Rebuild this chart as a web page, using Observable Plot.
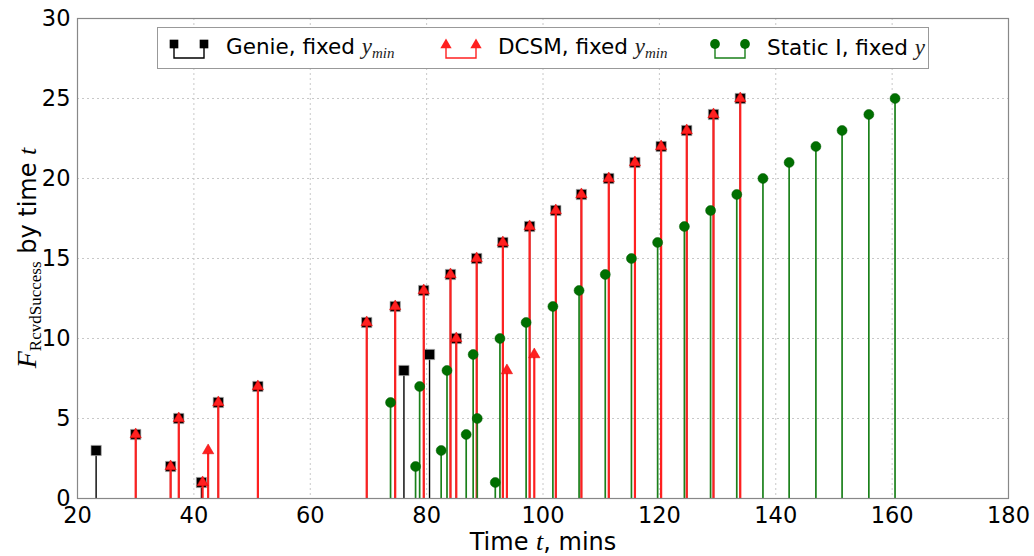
<!DOCTYPE html>
<html>
<head>
<meta charset="utf-8">
<script src="https://cdn.jsdelivr.net/npm/d3@7"></script>
<script src="https://cdn.jsdelivr.net/npm/@observablehq/plot@0.6"></script>
<style>
  body { margin: 0; background: white; }
  #wrap { position: relative; width: 1034px; height: 556px; font-family: "DejaVu Sans", sans-serif; }
  #legend { position: absolute; left: 157px; top: 27px; width: 770px; height: 40px; border: 1px solid #999; background: white; }
  .item { position: absolute; top: 0; height: 40px; display: flex; align-items: center; font-size: 21.5px; white-space: nowrap; }
  .item svg { margin-right: 14px; }
  .m { font-family: "Liberation Serif", "DejaVu Serif", serif; font-style: italic; font-size: 23px; color: #222; }
  .m sub { font-size: 15px; vertical-align: -4px; }
</style>
</head>
<body>
<div id="wrap">
  <div id="chart"></div>
  <div id="legend"></div>
</div>
<script>
// ---- data ----
const genieT = [23.2, 30.0, 36.0, 37.4, 41.3, 44.2, 51.0, 69.7, 74.6, 76.1, 79.5, 80.5, 84.1, 85.1, 88.6, 93.1, 97.7, 102.2, 106.6, 111.3, 115.8, 120.3, 124.7, 129.3, 133.9];
const genieF = [3, 4, 2, 5, 1, 6, 7, 11, 12, 8, 13, 9, 14, 10, 15, 16, 17, 18, 19, 20, 21, 22, 23, 24, 25];

const dcsmT = [30.0, 36.0, 37.4, 41.5, 42.45, 44.2, 51.0, 69.7, 74.6, 79.5, 84.1, 85.1, 88.6, 93.1, 93.8, 97.7, 98.5, 102.2, 106.6, 111.3, 115.8, 120.3, 124.7, 129.3, 133.9];
const dcsmF = [4, 2, 5, 1, 3, 6, 7, 11, 12, 13, 14, 10, 15, 16, 8, 17, 9, 18, 19, 20, 21, 22, 23, 24, 25];

const staticT = [73.8, 78.1, 78.8, 82.5, 83.5, 86.8, 88.0, 88.7, 91.8, 92.6, 97.1, 101.7, 106.2, 110.7, 115.2, 119.7, 124.3, 128.8, 133.3, 137.8, 142.3, 146.9, 151.4, 156.0, 160.5];
const staticF = [6, 2, 7, 3, 8, 4, 9, 5, 1, 10, 11, 12, 13, 14, 15, 16, 17, 18, 19, 20, 21, 22, 23, 24, 25];

const xTicks = [20, 40, 60, 80, 100, 120, 140, 160, 180];
const yTicks = [0, 5, 10, 15, 20, 25, 30];

const seriesNames = ["Genie, fixed ", "DCSM, fixed ", "Static I, fixed "];
const seriesMath = [["y", "min"], ["y", "min"], ["y", ""]];

// ---- build tables ----
const genie = genieT.map((t, i) => ({t, f: genieF[i]}));
const dcsm = dcsmT.map((t, i) => ({t, f: dcsmF[i]}));
const stat = staticT.map((t, i) => ({t, f: staticF[i]}));

const red = "#ff2020", green = "#1a801a";

const chart = Plot.plot({
  width: 1034,
  height: 556,
  marginLeft: 77,
  marginRight: 26,
  marginTop: 18,
  marginBottom: 58,
  style: {fontFamily: "DejaVu Sans, sans-serif", fontSize: "22px", background: "white", color: "black"},
  x: {domain: [20, 180], label: null, axis: null},
  y: {domain: [0, 30], label: null, axis: null},
  marks: [
    Plot.gridX(xTicks, {stroke: "#c8c8c8", strokeOpacity: 1, strokeDasharray: "2,3"}),
    Plot.gridY(yTicks, {stroke: "#c8c8c8", strokeOpacity: 1, strokeDasharray: "2,3"}),
    Plot.axisX({ticks: xTicks, tickSize: 0, tickPadding: 9, fontSize: 22.5, label: null}),
    Plot.axisY({ticks: yTicks, tickSize: 0, tickPadding: 7, fontSize: 22.5, label: null}),
    Plot.ruleX(genie, {x: "t", y1: 0, y2: "f", stroke: "black", strokeWidth: 1.4}),
    Plot.dot(genie, {x: "t", y: "f", symbol: "square", r: 5.8, fill: "black", stroke: "#aaa", strokeWidth: 0.7}),
    Plot.ruleX(dcsm, {x: "t", y1: 0, y2: "f", stroke: red, strokeWidth: 2.2}),
    Plot.dot(dcsm, {x: "t", y: "f", symbol: "triangle", r: 4.2, fill: red, stroke: "#e00000", strokeWidth: 0.5}),
    Plot.ruleX(stat, {x: "t", y1: 0, y2: "f", stroke: green, strokeWidth: 1.7}),
    Plot.dot(stat, {x: "t", y: "f", symbol: "circle", r: 5, fill: "#006f00", stroke: "#005a00", strokeWidth: 0.5}),
    Plot.frame({stroke: "#888", strokeWidth: 1.2})
  ]
});
document.getElementById("chart").appendChild(chart);

// axis labels as rich text
const svg = d3.select(chart);
const xl = svg.append("text")
  .attr("x", 543).attr("y", 550)
  .attr("text-anchor", "middle")
  .style("font-family", "DejaVu Sans, sans-serif").style("font-size", "24px");
xl.append("tspan").text("Time ");
xl.append("tspan").style("font-family", "Liberation Serif, DejaVu Serif, serif").style("font-style", "italic").style("font-size", "26px").text("t");
xl.append("tspan").text(", mins");

const yl = svg.append("text")
  .attr("transform", "translate(36,258) rotate(-90)")
  .attr("text-anchor", "middle")
  .style("font-family", "DejaVu Sans, sans-serif").style("font-size", "24px");
yl.append("tspan").style("font-family", "Liberation Serif, DejaVu Serif, serif").style("font-style", "italic").style("font-size", "28px").text("F");
yl.append("tspan").style("font-family", "Liberation Serif, DejaVu Serif, serif").style("font-size", "17px").attr("dy", 5).text("RcvdSuccess");
yl.append("tspan").attr("dy", -5).text(" by time ");
yl.append("tspan").style("font-family", "Liberation Serif, DejaVu Serif, serif").style("font-style", "italic").style("font-size", "26px").text("t");

// legend
const legend = d3.select("#legend");
const itemLeft = [8, 280, 549];
const itemColor = ["black", red, green];
const itemSym = [d3.symbolSquare, d3.symbolTriangle, d3.symbolCircle];
const itemFill = ["black", red, "#006f00"];
seriesNames.forEach((name, i) => {
  const it = legend.append("div").attr("class", "item").style("left", itemLeft[i] + "px");
  const s = it.append("svg").attr("width", 46).attr("height", 30);
  s.append("path").attr("d", "M8,12 V25 H38 V12").attr("fill", "none").attr("stroke", itemColor[i]).attr("stroke-width", 1.4);
  [8, 38].forEach(cx => {
    s.append("path").attr("d", d3.symbol(itemSym[i], i === 1 ? 55 : 75)()).attr("transform", `translate(${cx},${i === 1 ? 12 : 11})`).attr("fill", itemFill[i]);
  });
  const tx = it.append("span");
  tx.append("span").text(name);
  const m = tx.append("span").attr("class", "m");
  m.append("span").text(seriesMath[i][0]);
  if (seriesMath[i][1]) m.append("sub").text(seriesMath[i][1]);
});
</script>
</body>
</html>
